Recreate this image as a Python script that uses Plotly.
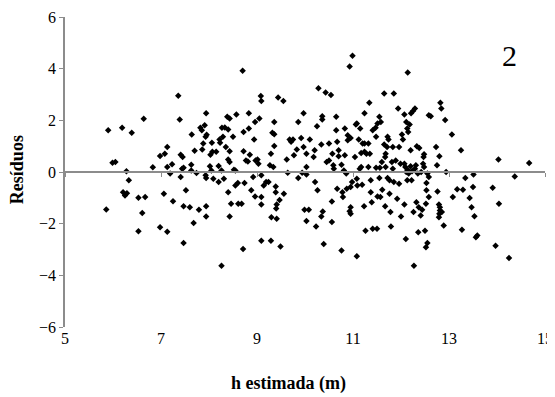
import plotly.graph_objects as go

h_est = [5.90,5.86,5.99,6.05,6.19,6.39,6.28,6.33,6.21,6.25,6.29,6.53,6.67,6.61,6.53,6.64,6.83,6.98,7.08,7.13,
7.13,7.19,7.23,7.25,7.06,6.98,7.13,7.36,7.39,7.41,7.45,7.41,7.44,7.47,7.47,7.47,7.52,7.60,7.63,7.64,
7.63,7.68,7.70,7.74,7.79,7.82,7.85,7.86,7.88,7.91,7.94,7.93,7.95,7.93,7.94,7.94,7.94,8.02,8.03,8.06,
8.07,8.05,8.09,8.15,8.20,8.20,8.22,8.23,8.26,8.29,8.27,8.26,8.31,8.33,8.35,8.38,8.40,8.43,8.40,8.43,
8.43,8.40,8.43,8.46,8.50,8.52,8.55,8.55,8.57,8.60,8.61,8.68,8.70,8.71,8.72,8.72,8.74,8.77,8.81,8.83,
8.83,8.85,8.88,8.92,8.94,8.96,8.96,8.97,9.01,9.03,9.05,9.08,9.09,9.09,9.09,9.09,9.09,9.14,9.19,9.24,
9.27,9.29,9.30,9.29,9.32,9.34,9.36,9.36,9.36,9.39,9.39,9.40,9.41,9.41,9.44,9.47,9.49,9.55,9.56,9.62,
9.64,9.68,9.71,9.75,9.77,9.83,9.86,9.86,9.92,9.94,9.97,9.97,9.99,10.03,10.03,10.03,10.03,10.08,10.10,10.18,
10.20,10.21,10.23,10.25,10.26,10.28,10.34,10.36,10.36,10.34,10.37,10.39,10.43,10.45,10.50,10.50,10.54,10.56,10.56,10.57,
10.59,10.60,10.65,10.65,10.67,10.67,10.70,10.70,10.76,10.76,10.78,10.79,10.81,10.83,10.83,10.86,10.87,10.89,10.89,10.93,
10.95,10.95,10.93,10.95,10.95,10.98,10.99,11.04,11.06,11.08,11.08,11.09,11.08,11.12,11.14,11.15,11.17,11.17,11.20,11.24,
11.19,11.23,11.24,11.24,11.26,11.28,11.32,11.32,11.34,11.35,11.37,11.37,11.39,11.41,11.41,11.47,11.48,11.48,11.50,11.51,
11.51,11.55,11.55,11.56,11.57,11.58,11.60,11.61,11.65,11.65,11.67,11.67,11.68,11.68,11.71,11.72,11.72,11.74,11.76,11.76,
11.78,11.79,11.81,11.83,11.83,11.85,11.85,11.89,11.92,11.94,11.96,11.96,11.99,12.00,12.02,12.04,12.07,12.07,12.07,12.09,
12.10,12.11,12.11,12.13,12.15,12.14,12.13,12.14,12.16,12.18,12.20,12.20,12.21,12.22,12.23,12.25,12.26,12.27,12.29,12.29,
12.31,12.32,12.33,12.35,12.36,12.37,12.38,12.41,12.42,12.44,12.46,12.47,12.48,12.48,12.50,12.52,12.52,12.53,12.53,12.55,
12.55,12.58,12.62,12.58,12.58,12.73,12.75,12.76,12.79,12.81,12.80,12.79,12.81,12.80,12.82,12.84,12.85,12.89,12.92,12.94,
13.06,13.08,13.17,13.25,13.27,13.29,13.34,13.43,13.47,13.50,13.51,13.53,13.56,13.59,13.91,13.97,14.03,14.04,14.25,14.37,
14.67]

residuos = [1.62,-1.45,0.36,0.39,1.71,1.52,0.03,-0.32,-0.78,-0.91,-0.82,-1.00,-0.97,-1.59,-2.29,2.06,0.18,0.62,0.71,0.97,
0.19,-0.06,0.30,-1.13,-0.84,-2.14,-2.31,2.95,2.03,0.67,0.58,-0.19,0.13,0.16,-1.33,-2.75,-0.71,-1.36,0.28,1.45,
0.06,-1.97,0.82,-0.04,-1.46,1.71,1.62,0.87,1.10,1.81,2.27,1.36,1.44,-0.13,-0.23,-1.33,-1.72,0.22,0.67,1.13,
0.78,0.06,-0.26,0.78,0.23,-0.39,1.26,1.13,0.06,1.36,1.71,-3.63,-0.26,1.72,0.97,2.14,1.65,2.07,0.48,0.39,
0.80,-0.78,-1.72,-1.23,1.36,0.09,0.06,-0.52,2.23,-0.43,-1.23,-1.23,3.92,-2.98,1.55,0.80,-0.43,0.45,0.41,2.27,
1.68,0.67,-0.71,-0.19,1.26,1.94,-0.95,0.45,0.48,0.32,2.07,2.94,2.75,-0.13,-0.97,-1.26,-2.66,-0.52,-0.39,-0.39,
0.26,0.71,-1.75,-2.66,1.52,0.19,1.46,1.94,1.01,-0.56,-0.78,-1.41,-1.26,-1.81,2.88,-1.08,-2.88,2.75,-0.84,0.48,
-0.03,1.26,1.17,1.26,0.65,0.87,1.94,-0.23,1.32,-0.03,2.27,0.97,-1.46,-1.90,0.19,0.71,-0.10,-1.46,1.26,0.58,
0.84,-0.39,-2.11,1.77,-0.71,3.24,1.06,2.16,2.03,-1.72,-1.53,-2.79,3.08,0.39,0.45,1.10,2.98,-1.14,-1.94,0.71,
0.26,0.13,2.14,1.62,1.17,-0.65,0.61,0.84,0.28,-3.04,-0.78,-0.97,0.06,1.68,0.65,-0.06,-0.65,1.42,1.23,-1.52,
-1.36,-1.62,4.08,1.32,-0.58,-0.39,4.50,0.58,1.84,1.88,-0.26,-0.52,-3.26,1.26,0.13,1.68,0.74,0.19,1.10,1.10,
-0.49,-1.33,2.27,0.78,-2.27,0.71,1.10,0.19,2.68,0.71,-0.32,-0.78,-1.17,-2.20,1.62,1.71,1.36,0.16,-2.20,-0.95,
1.88,2.14,-0.23,0.16,-0.97,1.94,0.39,-0.69,1.06,3.04,-1.33,0.58,0.71,0.19,0.97,1.36,-0.23,1.26,-0.84,-0.32,
-1.55,-2.11,0.39,0.97,0.13,3.04,-0.39,0.45,-1.04,2.46,0.97,-0.45,0.32,-1.72,1.45,1.26,2.23,0.32,-1.26,0.19,
-2.59,1.94,0.00,1.68,1.55,3.85,-0.32,0.09,-0.06,1.84,0.84,0.22,2.27,-0.32,0.03,2.36,-1.55,-3.63,2.46,0.13,
0.26,-1.17,1.00,-0.06,-2.33,-1.36,0.93,-1.68,0.00,-1.46,0.32,0.58,0.69,0.19,-2.27,-2.91,-1.23,-0.43,-0.71,-2.75,
-0.06,2.20,2.16,-0.97,-0.19,0.97,0.26,-0.75,-1.75,-1.49,-1.62,-1.26,-1.36,0.61,2.68,2.46,-1.55,-2.07,2.01,0.00,
1.45,-0.97,-0.67,0.84,-2.24,-0.69,-0.23,-1.01,-1.36,-0.58,-0.10,-1.71,-2.53,-2.46,-0.61,-2.85,0.48,-1.23,-3.33,-0.17,
0.35]

x_ticks = [5, 7, 9, 11, 13, 15]
y_ticks = [-6, -4, -2, 0, 2, 4, 6]
panel_label = "2"
x_title = "<b>h estimada (m)</b>"
y_title = "<b>Resíduos</b>"

FONT = "Liberation Serif, Times New Roman, serif"

fig = go.Figure()
fig.add_trace(go.Scatter(
    x=h_est, y=residuos, mode="markers",
    marker=dict(symbol="diamond", size=5, color="black", line=dict(width=0)),
    showlegend=False, hoverinfo="skip",
))
# invisible trace for the tick-label axis at the bottom
fig.add_trace(go.Scatter(x=[x_ticks[0], x_ticks[-1]], y=[0, 0], xaxis="x2", mode="markers",
                         marker=dict(opacity=0), showlegend=False, hoverinfo="skip"))

fig.update_layout(
    width=547, height=389,
    margin=dict(l=57, r=10, t=9, b=70, autoexpand=False),
    plot_bgcolor="white", paper_bgcolor="white",
    font=dict(family=FONT, color="black", size=16),
    xaxis=dict(
        range=[5, 15], tickvals=x_ticks, showticklabels=False,
        anchor="free", position=0.5, automargin=False,
        showline=True, linecolor="#8c8c8c", linewidth=1.5,
        ticks="outside", ticklen=4, tickcolor="#8c8c8c", tickwidth=1,
        showgrid=False, zeroline=False,
    ),
    xaxis2=dict(
        range=[5, 15], tickvals=x_ticks, overlaying="x", side="bottom",
        anchor="y", showline=False, ticks="", showgrid=False, zeroline=False,
        automargin=False,
        tickfont=dict(family=FONT, size=16, color="black"),
    ),
    yaxis=dict(
        range=[-6, 6], tickvals=y_ticks, automargin=False,
        showline=True, linecolor="#8c8c8c", linewidth=1.5,
        ticks="outside", ticklen=4, tickcolor="#8c8c8c",
        showgrid=False, zeroline=False,
        tickfont=dict(family=FONT, size=16, color="black"),
    ),
    annotations=[
        dict(text=panel_label, x=14.25, y=4.5, xref="x", yref="y",
             showarrow=False, font=dict(family=FONT, size=30, color="black")),
        dict(text=x_title, x=0.465, y=-0.181, xref="paper", yref="paper",
             xanchor="center", yanchor="middle", showarrow=False,
             font=dict(family=FONT, size=18, color="black")),
        dict(text=y_title, x=-0.1, y=0.506, xref="paper", yref="paper",
             xanchor="center", yanchor="middle", showarrow=False, textangle=-90,
             font=dict(family=FONT, size=18, color="black")),
    ],
)

fig.write_html("out.html")
